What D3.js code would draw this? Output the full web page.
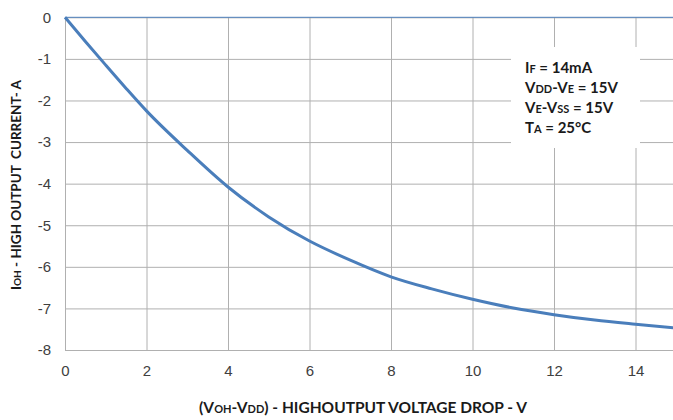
<!DOCTYPE html>
<html>
<head>
<meta charset="utf-8">
<script src="https://cdn.jsdelivr.net/npm/d3@7"></script>
<style>
  body { margin:0; background:#fff; }
  svg { display:block; font-family: Lato, "Open Sans", sans-serif; }
  .grid line { stroke:#b0b0b0; stroke-width:1; }
  .grid path { display:none; }
  .tick text { fill:#404040; font-size:15px; }
</style>
</head>
<body>
<script>
// output current vs voltage drop
var voltDrop = [0, 0.5, 1, 1.5, 2, 3, 4, 5, 6, 7, 8, 9, 10, 11, 12, 13, 14, 15];
var current  = [0, -0.58, -1.15, -1.71, -2.25, -3.2, -4.08, -4.8, -5.38, -5.84, -6.24, -6.53, -6.78, -6.99, -7.15, -7.28, -7.38, -7.47];

var xTicks = [0, 2, 4, 6, 8, 10, 12, 14];
var yTicks = [0, -1, -2, -3, -4, -5, -6, -7, -8];

var width = 673, height = 420;
var margin = {left:65, top:17.3, bottom:350};

var x = d3.scaleLinear().domain([0,15]).range([margin.left, margin.left + 15*40.75]);
var y = d3.scaleLinear().domain([-8,0]).range([margin.bottom, margin.top]);

var svg = d3.select("body").append("svg").attr("width",width).attr("height",height);

// vertical grid
svg.append("g").attr("class","grid")
   .attr("transform","translate(0,"+margin.bottom+")")
   .call(d3.axisBottom(x).tickValues(xTicks).tickSize(-(margin.bottom-margin.top)).tickFormat(""));
// horizontal grid
svg.append("g").attr("class","grid")
   .attr("transform","translate("+margin.left+",0)")
   .call(d3.axisLeft(y).tickValues(yTicks).tickSize(-(width-margin.left)).tickFormat(""));

// top gridline is blue in the original
svg.append("line")
   .attr("x1",x(0)).attr("x2",width).attr("y1",y(0)).attr("y2",y(0))
   .attr("stroke","#4f81bd").attr("stroke-width",1);

// tick labels (plain hyphen like the original)
var xAx = svg.append("g").attr("transform","translate(0,"+margin.bottom+")")
   .call(d3.axisBottom(x).tickValues(xTicks).tickSize(0).tickPadding(15));
xAx.select(".domain").remove();

var yAx = svg.append("g").attr("transform","translate("+margin.left+",0)")
   .call(d3.axisLeft(y).tickValues(yTicks).tickSize(0).tickPadding(14).tickFormat(function(d){ return String(d); }));
yAx.select(".domain").remove();

// legend box
svg.append("rect").attr("x",511).attr("y",47).attr("width",129).attr("height",101).attr("fill","#fff");

var legend = [
  [["I",15],["F",11],[" = 14mA",15]],
  [["V",15],["DD",11],["-V",15],["E",11],[" = 15V",15]],
  [["V",15],["E",11],["-V",15],["SS",11],[" = 15V",15]],
  [["T",15],["A",11],[" = 25°C",15]]
];
legend.forEach(function(parts,i){
  var t = svg.append("text").attr("x",525).attr("y",73+i*20)
     .attr("font-weight","bold").attr("fill","#1a1a1a");
  parts.forEach(function(p){
    t.append("tspan").attr("font-size",p[1]+"px").text(p[0]);
  });
});

// curve
var line = d3.line()
   .x(function(d,i){ return x(voltDrop[i]); })
   .y(function(d){ return y(d); })
   .curve(d3.curveMonotoneX);

svg.append("path").attr("d",line(current))
   .attr("fill","none").attr("stroke","#4a7ebb").attr("stroke-width",3);

// axis titles
var xt = svg.append("text").attr("x",363).attr("y",413).attr("text-anchor","middle")
   .attr("font-weight","bold").attr("font-size","15.5px").attr("fill","#1a1a1a");
xt.append("tspan").text("(V");
xt.append("tspan").attr("font-size","11px").text("OH");
xt.append("tspan").text("-V");
xt.append("tspan").attr("font-size","11px").text("DD");
xt.append("tspan").text(") - HIGHOUTPUT VOLTAGE DROP - V");

var yt = svg.append("text").attr("transform","translate(21,185) rotate(-90)").attr("text-anchor","middle")
   .attr("font-weight","bold").attr("font-size","13.5px").attr("fill","#1a1a1a")
   .style("white-space","pre");
yt.append("tspan").text("I");
yt.append("tspan").attr("font-size","10px").text("OH");
yt.append("tspan").text(" - HIGH OUTPUT  CURRENT- A");
</script>
</body>
</html>
